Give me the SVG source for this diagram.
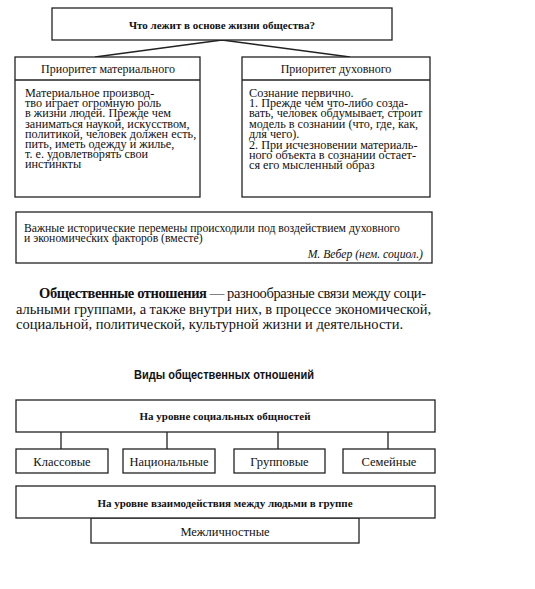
<svg xmlns="http://www.w3.org/2000/svg" width="535" height="589" viewBox="0 0 535 589">
<style>
.box{fill:#fff;stroke:#222;stroke-width:1.3}
.ln{fill:none;stroke:#222;stroke-width:1.3}
.t{font-family:"Liberation Serif","Times New Roman",serif;fill:#111}
.s11{font-size:11px}
.q{font-size:11.7px}
.body{font-size:12.2px}
.s12{font-size:12px}
.s13{font-size:12.5px}
.p{font-size:14.5px}
.b{font-weight:bold}
.c{text-anchor:middle}
.h{font-family:"Liberation Sans",Arial,sans-serif;font-weight:bold;font-size:13.5px;fill:#111}
</style>
<rect width="535" height="589" fill="#fff"/>
<g id="connectors">
<path class="ln" d="M222 40 L95 57 M222 40 L350 57"/>
<path class="ln" d="M61 432 V449 M167 432 V449 M278 432 V449 M388 432 V449"/>
</g>
<g id="question">
<rect class="box" x="52" y="8" width="340" height="32"/>
<text class="t s11 b c" x="222" y="29">Что лежит в основе жизни общества?</text>
</g>
<g id="material">
<rect class="box" x="15" y="57" width="185" height="140"/>
<line class="ln" x1="15" y1="80" x2="200" y2="80"/>
<text class="t s12 c" x="108" y="73">Приоритет материального</text>
<text class="t body" x="25" y="97">
<tspan x="25" y="97">Материальное производ-</tspan>
<tspan x="25" y="107.2">тво играет огромную роль</tspan>
<tspan x="25" y="117.4">в жизни людей. Прежде чем</tspan>
<tspan x="25" y="127.6">заниматься наукой, искусством,</tspan>
<tspan x="25" y="137.8">политикой, человек должен есть,</tspan>
<tspan x="25" y="148">пить, иметь одежду и жилье,</tspan>
<tspan x="25" y="158.2">т. е. удовлетворять свои</tspan>
<tspan x="25" y="168.4">инстинкты</tspan>
</text>
</g>
<g id="spiritual">
<rect class="box" x="242" y="57" width="188" height="140"/>
<line class="ln" x1="242" y1="80" x2="430" y2="80"/>
<text class="t s12 c" x="336" y="73">Приоритет духовного</text>
<text class="t body" x="249" y="97">
<tspan x="249" y="97">Сознание первично.</tspan>
<tspan x="249" y="107.2">1. Прежде чем что-либо созда-</tspan>
<tspan x="249" y="117.4">вать, человек обдумывает, строит</tspan>
<tspan x="249" y="127.6">модель в сознании (что, где, как,</tspan>
<tspan x="249" y="137.8">для чего).</tspan>
<tspan x="249" y="148.5">2. При исчезновении материаль-</tspan>
<tspan x="249" y="158.7">ного объекта в сознании остает-</tspan>
<tspan x="249" y="168.9">ся его мысленный образ</tspan>
</text>
</g>
<g id="quote">
<rect class="box" x="16" y="212" width="416" height="51"/>
<text class="t q" x="24" y="231.5">Важные исторические перемены происходили под воздействием духовного</text>
<text class="t q" x="24" y="241.8">и экономических факторов (вместе)</text>
<text class="t q" x="423" y="258" text-anchor="end" font-style="italic">М. Вебер (нем. социол.)</text>
</g>
<g id="definition">
<text class="t p" x="39" y="298" textLength="387" lengthAdjust="spacing"><tspan class="b">Общественные отношения</tspan> — разнообразные связи между соци-</text>
<text class="t p" x="16" y="313.5" textLength="415" lengthAdjust="spacing">альными группами, а также внутри них, в процессе экономической,</text>
<text class="t p" x="16" y="328.5">социальной, политической, культурной жизни и деятельности.</text>
</g>
<g id="title">
<text class="h" x="134" y="378.5" textLength="180" lengthAdjust="spacingAndGlyphs">Виды общественных отношений</text>
</g>
<g id="social-level">
<rect class="box" x="16" y="400" width="419" height="32"/>
<text class="t s11 b c" x="225" y="420">На уровне социальных общностей</text>
</g>
<g id="class">
<rect class="box" x="16" y="449" width="92" height="24"/>
<text class="t s13 c" x="62" y="465.5">Классовые</text>
</g>
<g id="national">
<rect class="box" x="123" y="449" width="92" height="24"/>
<text class="t s13 c" x="169" y="465.5">Национальные</text>
</g>
<g id="group">
<rect class="box" x="234" y="449" width="91" height="24"/>
<text class="t s13 c" x="279.5" y="465.5">Групповые</text>
</g>
<g id="family">
<rect class="box" x="343" y="449" width="92" height="24"/>
<text class="t s13 c" x="389" y="465.5">Семейные</text>
</g>
<g id="interpersonal">
<rect class="box" x="91" y="518" width="268" height="25"/>
<text class="t s13 c" x="225" y="535.5">Межличностные</text>
</g>
<g id="group-level">
<rect class="box" x="16" y="486" width="419" height="32"/>
<text class="t s11 b c" x="225" y="506.5">На уровне взаимодействия между людьми в группе</text>
</g>
</svg>
